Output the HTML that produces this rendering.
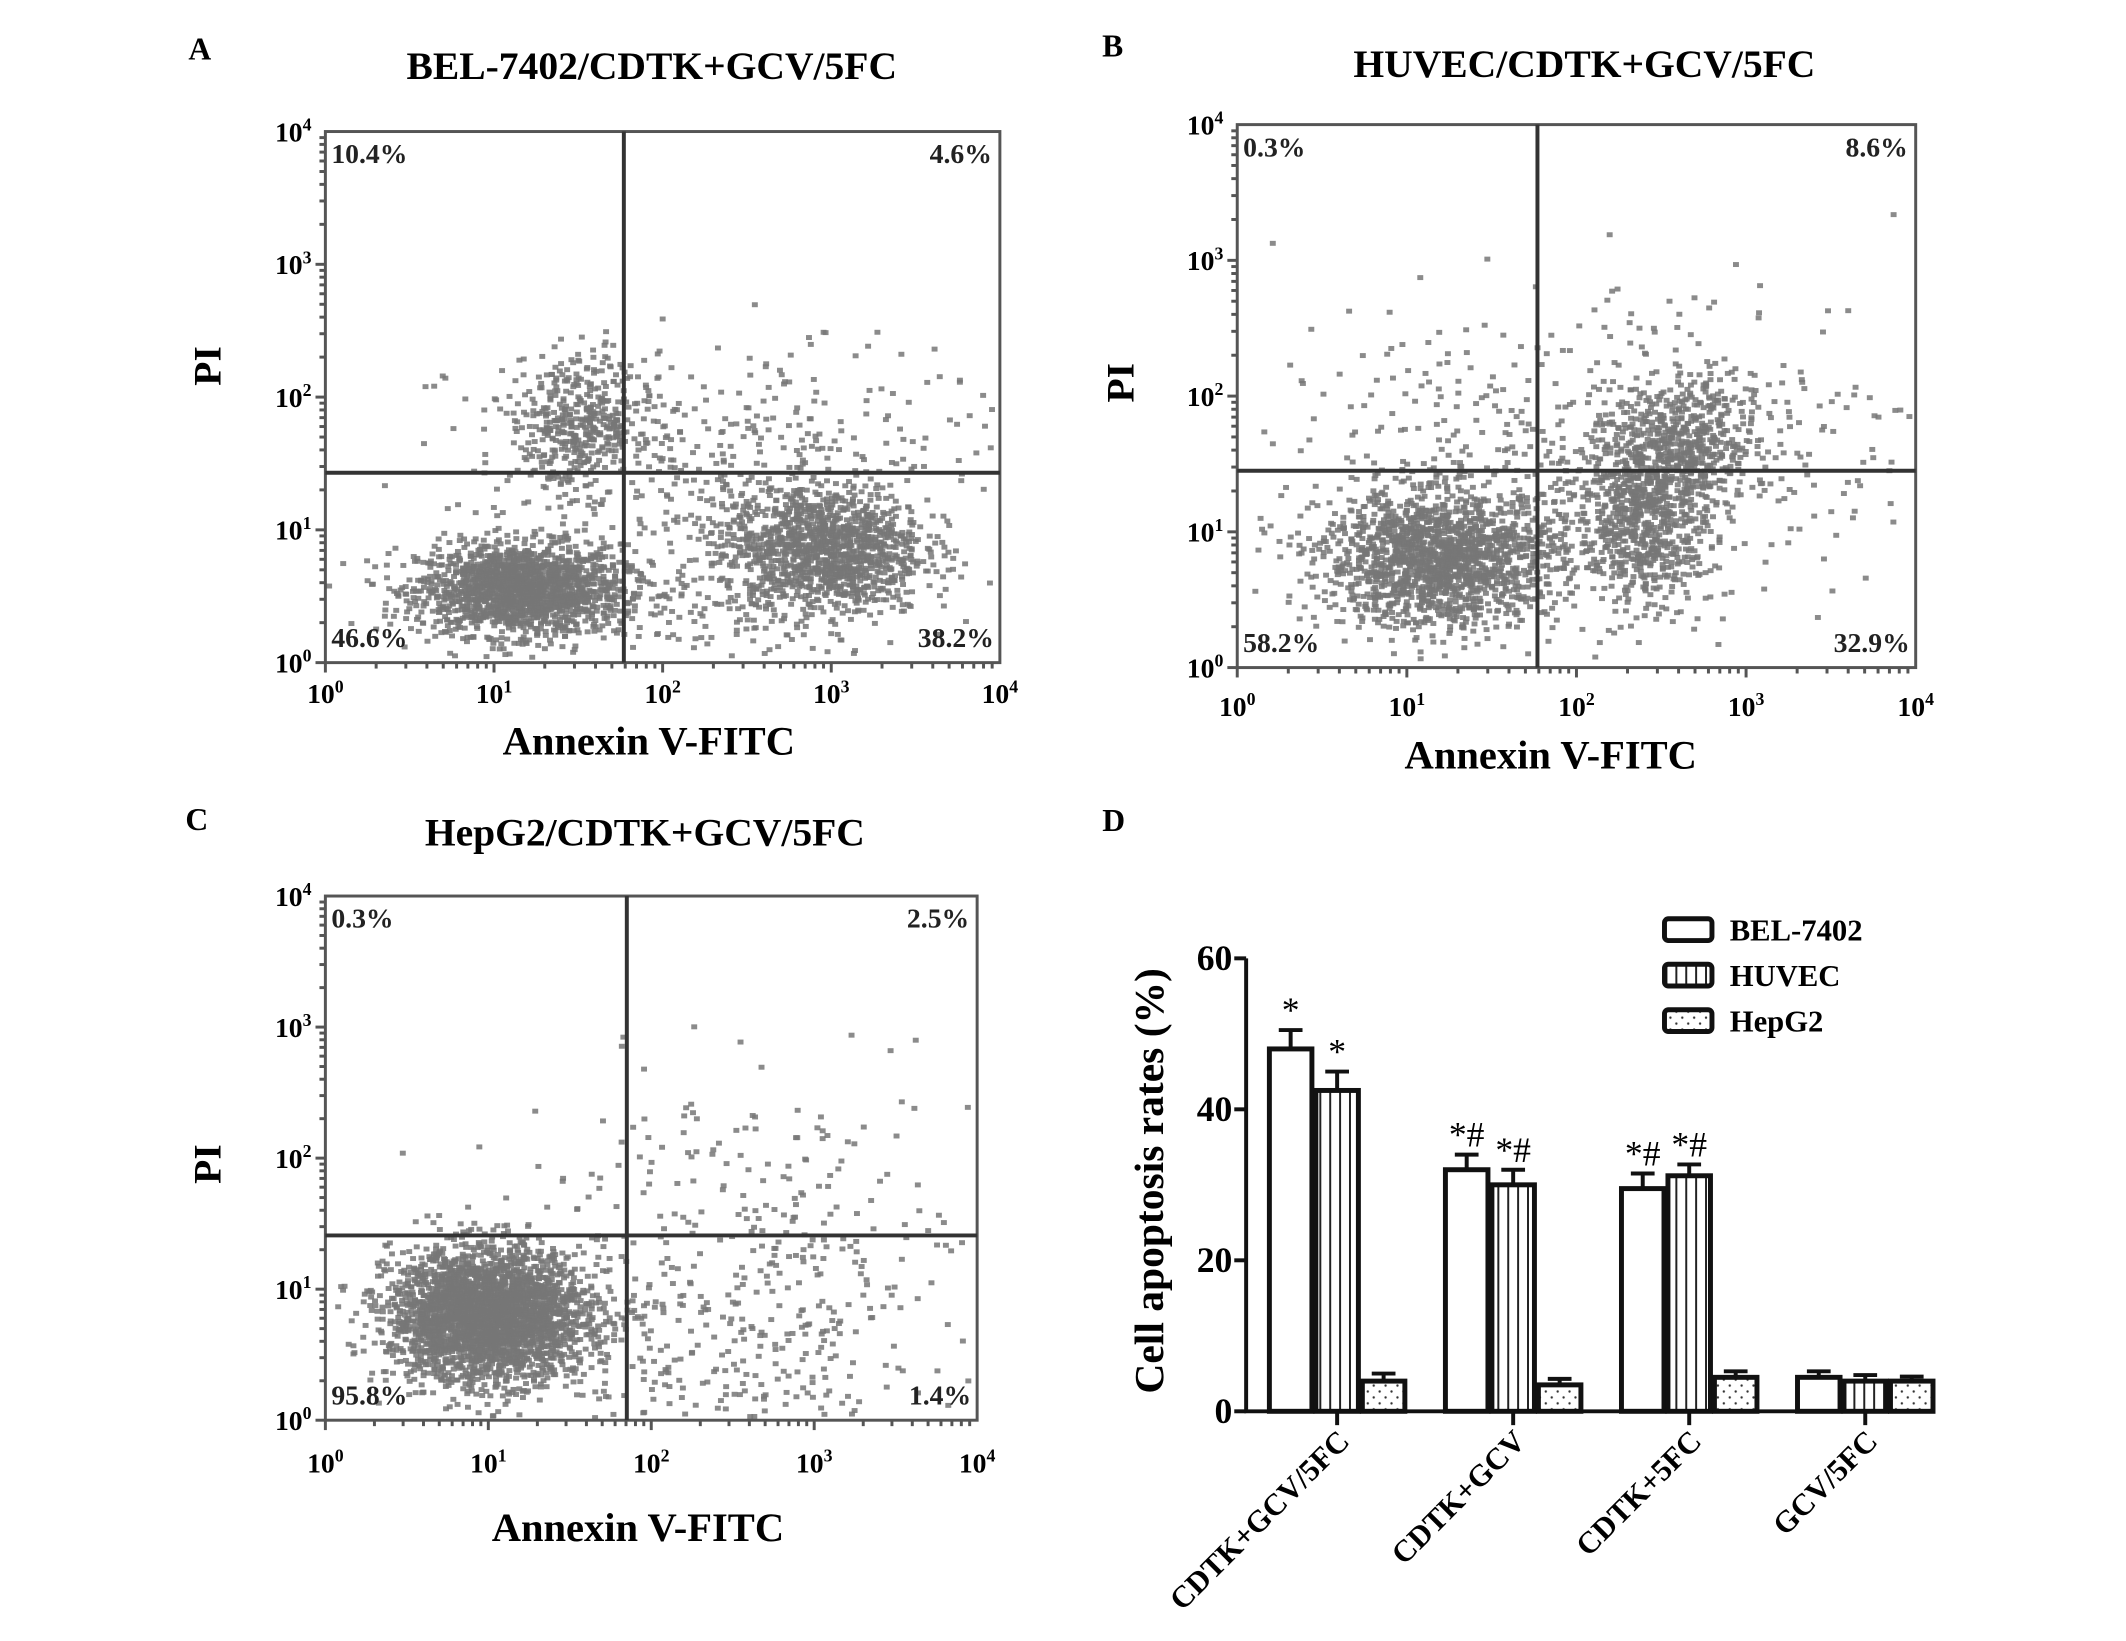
<!DOCTYPE html>
<html><head><meta charset="utf-8">
<style>
body{margin:0;background:#fff;}
svg{display:block;font-family:"Liberation Serif",serif;font-weight:bold;}
</style></head>
<body>
<svg id="fig" width="2126" height="1641" viewBox="0 0 2126 1641" xmlns="http://www.w3.org/2000/svg">
<rect width="2126" height="1641" fill="#fff"/>
<g id="root" transform="scale(0.989)"></g>
</svg>
<script>
// ---------- flow cytometry data (log10 decades) ----------
const panelTitles = ["BEL-7402/CDTK+GCV/5FC","HUVEC/CDTK+GCV/5FC","HepG2/CDTK+GCV/5FC"];
const panelLetters = ["A","B","C"];
const quadPercents = [["10.4%","4.6%","46.6%","38.2%"],["0.3%","8.6%","58.2%","32.9%"],["0.3%","2.5%","95.8%","1.4%"]];
const gateX = [1.77,1.77,1.85];
const gateY = [1.43,1.45,1.41];
// clusters: [cx, cy, sx, sy, count]
const clustersA = [[1.15,0.55,0.3,0.17,1700],[2.95,0.85,0.3,0.25,1300],[1.5,1.8,0.2,0.25,400],[2.4,1.6,0.8,0.4,350],[2.0,0.5,0.6,0.4,250]];
const clustersB = [[1.2,0.8,0.35,0.25,1700],[2.4,1.15,0.2,0.35,800],[2.65,1.65,0.2,0.25,400],[2.6,1.7,0.8,0.6,350],[1.2,1.7,0.5,0.4,120]];
const clustersC = [[1.0,0.8,0.3,0.25,3000],[2.6,1.2,0.7,0.7,350],[2.2,0.5,0.8,0.4,150]];
const tickExp = ["0","1","2","3","4"];

// ---------- bar chart data ----------
const categories = ["CDTK+GCV/5FC","CDTK+GCV","CDTK+5FC","GCV/5FC"];
const seriesNames = ["BEL-7402","HUVEC","HepG2"];
const belValues = [48,32,29.5,4.5];
const huvecValues = [42.5,30,31.2,4];
const hepValues = [4,3.5,4.5,4];
const belErr = [2.5,2,2,0.8];
const huvecErr = [2.5,2,1.5,0.8];
const hepErr = [1,0.8,0.8,0.6];
const yTicks = [0,20,40,60];
const sigBel = ["*","*#","*#",""];
const sigHuvec = ["*","*#","*#",""];

const NS="http://www.w3.org/2000/svg";
const svg=document.getElementById('root');
function mk(tag,attrs,parent,text){const e=document.createElementNS(NS,tag);for(const k in attrs)e.setAttribute(k,attrs[k]);if(text!==undefined)e.textContent=text;(parent||svg).appendChild(e);return e;}

// seeded generator for scatter texture
let seed=12345;
function rnd(){seed=(seed*1103515245+12345)%2147483648;return seed/2147483648;}
function gauss(){let u=rnd()||1e-6,v=rnd();return Math.sqrt(-2*Math.log(u))*Math.cos(2*Math.PI*v);}

const boxes=[
 {l:329,r:1011,t:133,b:670,title:[659,66],letter:[202,48],tickY:711,xl:[656,749],pi:[209,370]},
 {l:1251,r:1937,t:126,b:675,title:[1602,64],letter:[1125,45],tickY:724,xl:[1568,763],pi:[1132,387]},
 {l:329,r:988,t:906,b:1436,title:[652,841],letter:[199,827],tickY:1489,xl:[645,1544],pi:[209,1177]}
];
const clusterSets=[clustersA,clustersB,clustersC];

boxes.forEach((B,pi)=>{
  const g=mk('g',{},svg);
  
  
  const xs=v=>B.l+(B.r-B.l)*v/4, ys=v=>B.b-(B.b-B.t)*v/4;
  const lt=mk('text',{x:B.letter[0],y:B.letter[1]+12,'font-size':32,'text-anchor':'middle'},g,panelLetters[pi]);
  
  
  const tt=mk('text',{x:B.title[0],y:B.title[1]+14,'font-size':40,'text-anchor':'middle'},g,panelTitles[pi]);
  
  
  const pg=mk('g',{fill:'#777'},g);
  
  
  clusterSets[pi].forEach(c=>{
    for(let i=0;i<c[4];i++){
      const x=c[0]+gauss()*c[2], y=c[1]+gauss()*c[3];
      if(x<0.02||x>3.98||y<0.02||y>3.98)continue;
      mk('rect',{x:xs(x)-3,y:ys(y)-2.5,width:6,height:5,opacity:0.85},pg);
    }
  });
  const fr=mk('rect',{x:B.l,y:B.t,width:B.r-B.l,height:B.b-B.t,fill:'none',stroke:'#555','stroke-width':3},g);
  
  
  const gv=mk('line',{x1:xs(gateX[pi]),x2:xs(gateX[pi]),y1:B.t,y2:B.b,stroke:'#333','stroke-width':4},g);
  
  
  const gh=mk('line',{x1:B.l,x2:B.r,y1:ys(gateY[pi]),y2:ys(gateY[pi]),stroke:'#333','stroke-width':4},g);
  
  
  for(let d=0;d<4;d++)for(let m=1;m<10;m++){
    const v=d+Math.log10(m),len=m==1?10:6;
    mk('line',{x1:B.l,x2:B.l-len,y1:ys(v),y2:ys(v),stroke:'#555','stroke-width':3},g);
    mk('line',{x1:xs(v),x2:xs(v),y1:B.b,y2:B.b+len,stroke:'#555','stroke-width':3},g);
  }
  tickExp.forEach((e,i)=>{
    const tx=mk('text',{x:xs(i),y:B.tickY,'font-size':28,'text-anchor':'middle'},g);
    
    
    tx.innerHTML='10<tspan dy="-11" font-size="18">'+e+'</tspan>';
    const ty=mk('text',{x:B.l-14,y:ys(i)+10,'font-size':28,'text-anchor':'end'},g);
    
    
    ty.innerHTML='10<tspan dy="-11" font-size="18">'+e+'</tspan>';
  });
  const q=quadPercents[pi];
  [[B.l+6,B.t+32,'start',q[0]],[B.r-8,B.t+32,'end',q[1]],[B.l+6,B.b-16,'start',q[2]],[B.r-6,B.b-16,'end',q[3]]].forEach(a=>{
    const t=mk('text',{x:a[0],y:a[1],'font-size':28,'text-anchor':a[2],fill:'#222'},g,a[3]);
    
    
  });
  const xl=mk('text',{x:B.xl[0],y:B.xl[1]+14,'font-size':41,'text-anchor':'middle'},g,'Annexin V-FITC');
  
  
  const yl=mk('text',{x:0,y:0,'font-size':40,'text-anchor':'middle',transform:`translate(${B.pi[0]+14},${B.pi[1]}) rotate(-90)`},g,'PI');
  
  
});

// ---------- Panel D bar chart ----------
const D={x0:1260,x1:1955,y0:1427,y60:969};
const gy=v=>D.y0-(D.y0-D.y60)*v/60;
const groupX=i=>1352+178*i;
const bw=43, step=47;
const dg=mk('g',{},svg);


const dl=mk('text',{x:1126,y:840,'font-size':32,'text-anchor':'middle'},dg,'D');


const defs=mk('defs',{},document.getElementById('fig'));
const p1=mk('pattern',{id:'vstripe',width:10,height:20,patternUnits:'userSpaceOnUse'},defs);
mk('line',{x1:5,x2:5,y1:0,y2:20,stroke:'#222','stroke-width':2},p1);
const p2=mk('pattern',{id:'dots',width:12,height:12,patternUnits:'userSpaceOnUse'},defs);
mk('circle',{cx:3,cy:3,r:1.2,fill:'#333'},p2);mk('circle',{cx:9,cy:9,r:1.2,fill:'#333'},p2);
const fills=['#fff','url(#vstripe)','url(#dots)'];
const allVals=[belValues,huvecValues,hepValues], allErr=[belErr,huvecErr,hepErr];
categories.forEach((c,ci)=>{
  allVals.forEach((arr,si)=>{
    const cx=groupX(ci)+(si-1)*step, v=arr[ci], e=allErr[si][ci];
    const r=mk('rect',{x:cx-bw/2,y:gy(v),width:bw,height:D.y0-gy(v),fill:fills[si],stroke:'#111','stroke-width':5},dg);
    
    
    const eb=mk('path',{d:`M${cx},${gy(v)} V${gy(v+e)} M${cx-12},${gy(v+e)} H${cx+12}`,stroke:'#111','stroke-width':4,fill:'none'},dg);
    
    
  });
  [[sigBel,0],[sigHuvec,1]].forEach(([s,si])=>{
    if(!s[ci])return;
    const cx=groupX(ci)+(si-1)*step, v=allVals[si][ci]+allErr[si][ci];
    const t=mk('text',{x:cx,y:gy(v)-8,'font-size':36,'font-weight':'normal','text-anchor':'middle'},dg,s[ci]);
    
    
  });
  mk('line',{x1:groupX(ci),x2:groupX(ci),y1:D.y0,y2:D.y0+14,stroke:'#111','stroke-width':4},dg);
  const cl=mk('text',{x:0,y:0,'font-size':31,'text-anchor':'end',transform:`translate(${groupX(ci)+14},${D.y0+32}) rotate(-45)`},dg,c);
  
  
});
const ax=mk('path',{d:`M${D.x0},${D.y60} V${D.y0} H${D.x1}`,stroke:'#111','stroke-width':4,fill:'none'},dg);


yTicks.forEach(t=>{
  mk('line',{x1:D.x0,x2:D.x0-12,y1:gy(t),y2:gy(t),stroke:'#111','stroke-width':4},dg);
  const tl=mk('text',{x:D.x0-14,y:gy(t)+12,'font-size':36,'text-anchor':'end'},dg,String(t));
  
  
});
const yt=mk('text',{x:0,y:0,'font-size':42,'text-anchor':'middle',transform:`translate(1176,1194) rotate(-90)`},dg,'Cell apoptosis rates (%)');


seriesNames.forEach((n,i)=>{
  const y=940+46*i;
  const lb=mk('rect',{x:1683,y:y-11,width:48,height:22,rx:4,fill:fills[i],stroke:'#111','stroke-width':5},dg);
  
  
  const lt=mk('text',{x:1749,y:y+11,'font-size':31},dg,n);
  
  
});
</script>
</body></html>
